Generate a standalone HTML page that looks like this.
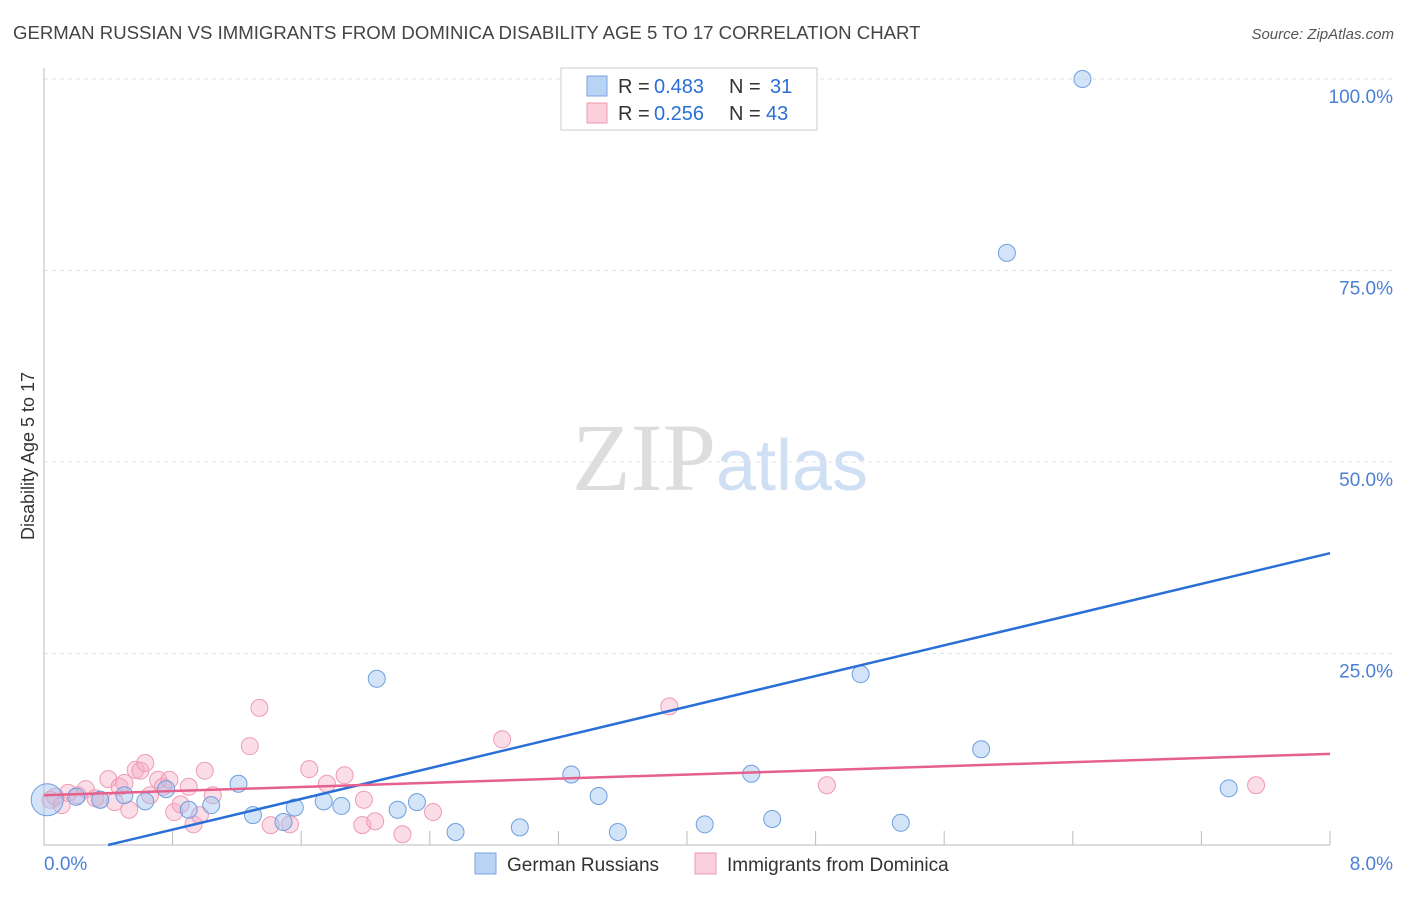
<!DOCTYPE html>
<html><head><meta charset="utf-8"><style>
body{margin:0;background:#fff;font-family:"Liberation Sans",sans-serif;}
</style></head><body>
<svg id="chart" width="1406" height="892" xmlns="http://www.w3.org/2000/svg" style="font-family:'Liberation Sans',sans-serif">
<text x="13" y="39" font-size="18.6" fill="#444">GERMAN RUSSIAN VS IMMIGRANTS FROM DOMINICA DISABILITY AGE 5 TO 17 CORRELATION CHART</text>
<text x="1394" y="39" font-size="15" fill="#555" text-anchor="end" font-style="italic">Source: ZipAtlas.com</text>
<text x="720" y="490" font-size="96" text-anchor="middle" font-family="Liberation Serif" fill="#ddd"><tspan fill="#ddd">ZIP</tspan><tspan fill="#cfe0f5" font-family="Liberation Sans" font-size="72">atlas</tspan></text>
<text transform="translate(34,456) rotate(-90)" font-size="18" fill="#333" text-anchor="middle">Disability Age 5 to 17</text>
<g id="grid"></g><g id="marks"></g>
<g>
<rect x="561" y="68" width="256" height="62" fill="#fff" stroke="#ccc"/>
<rect x="587" y="76" width="20" height="20" fill="#b9d3f5" stroke="#7aa6e0"/>
<text x="618" y="93" font-size="20" fill="#333">R =</text>
<text x="654" y="93" font-size="20" fill="#2a6fd6">0.483</text>
<text x="729" y="93" font-size="20" fill="#333">N =</text>
<text x="770" y="93" font-size="20" fill="#2a6fd6">31</text>
<rect x="587" y="103" width="20" height="20" fill="#fbcfdc" stroke="#eb9ab4"/>
<text x="618" y="120" font-size="20" fill="#333">R =</text>
<text x="654" y="120" font-size="20" fill="#2a6fd6">0.256</text>
<text x="729" y="120" font-size="20" fill="#333">N =</text>
<text x="766" y="120" font-size="20" fill="#2a6fd6">43</text>
</g>
<g>
<rect x="475" y="853" width="21" height="21" fill="#b9d3f5" stroke="#7aa6e0"/>
<text x="507" y="871" font-size="19" fill="#333">German Russians</text>
<rect x="695" y="853" width="21" height="21" fill="#fbcfdc" stroke="#eb9ab4"/>
<text x="727" y="871" font-size="19" fill="#333">Immigrants from Dominica</text>
</g>
</svg>
<script>
const xTicks=[0,0.8,1.6,2.4,3.2,4.0,4.8,5.6,6.4,7.2,8.0];
const yTicks=[25,50,75,100];
const yTickLabels=["25.0%","50.0%","75.0%","100.0%"];
const blueX=[0.02,0.2,0.35,0.5,0.63,0.76,0.9,1.04,1.21,1.3,1.49,1.56,1.74,1.85,2.07,2.2,2.32,2.56,2.96,3.28,3.45,3.57,4.11,4.4,4.53,5.08,5.33,5.83,5.99,6.46,7.37];
const blueY=[5.9,6.3,5.9,6.5,5.7,7.3,4.6,5.2,8.0,3.9,3.0,4.9,5.7,5.1,21.7,4.6,5.6,1.7,2.3,9.2,6.4,1.7,2.7,9.3,3.4,22.3,2.9,12.5,77.3,100,7.4];
const blueBig=[1,0,0,0,0,0,0,0,0,0,0,0,0,0,0,0,0,0,0,0,0,0,0,0,0,0,0,0,0,0,0];
const pinkX=[0.04,0.07,0.11,0.15,0.21,0.26,0.32,0.35,0.4,0.44,0.47,0.5,0.53,0.57,0.6,0.63,0.66,0.71,0.74,0.78,0.81,0.85,0.9,0.93,0.97,1.0,1.05,1.28,1.34,1.41,1.53,1.65,1.76,1.87,1.98,1.99,2.06,2.23,2.42,2.85,3.89,4.87,7.54];
const pinkY=[5.9,6.3,5.2,6.8,6.5,7.3,6.1,5.9,8.6,5.6,7.6,8.1,4.6,9.8,9.7,10.7,6.5,8.5,7.6,8.5,4.3,5.3,7.6,2.7,3.9,9.7,6.5,12.9,17.9,2.6,2.7,9.9,8.0,9.1,2.6,5.9,3.1,1.4,4.3,13.8,18.1,7.8,7.8];
const trendBlue=[-2.0,38.1];
const trendPink=[6.5,11.9];
const X=v=>44+v/8*1286, Y=v=>845-v*7.66;
const ns="http://www.w3.org/2000/svg";
function mk(t,a,p){const e=document.createElementNS(ns,t);for(const k in a)e.setAttribute(k,a[k]);p.appendChild(e);return e;}
const g=document.getElementById('grid'), m=document.getElementById('marks');
yTicks.forEach((t,i)=>{
 const l=mk('line',{x1:44,x2:1394,y1:Y(t),y2:Y(t),stroke:'#e2e2e2','stroke-dasharray':'4,4'},g);
 
 
 const tx=mk('text',{x:1393,y:Y(t)+24,'font-size':19,fill:'#4a80d6','text-anchor':'end'},g);
 tx.textContent=yTickLabels[i];
 
 
});
const ax=mk('line',{x1:44,x2:44,y1:68,y2:845,stroke:'#bbb'},g);


const bx=mk('line',{x1:44,x2:1330,y1:845,y2:845,stroke:'#bbb'},g);


xTicks.forEach(t=>{if(t===0)return;
 const l=mk('line',{x1:X(t),x2:X(t),y1:831,y2:845,stroke:'#bbb'},g);
 
 
});
const x0=mk('text',{x:44,y:870,'font-size':19,fill:'#4a80d6'},g);x0.textContent=xTicks[0].toFixed(1)+'%';


const x1=mk('text',{x:1393,y:870,'font-size':19,fill:'#4a80d6','text-anchor':'end'},g);x1.textContent=xTicks[xTicks.length-1].toFixed(1)+'%';


pinkX.forEach((v,i)=>{
 const c=mk('circle',{cx:X(v),cy:Y(pinkY[i]),r:8.5,fill:'rgba(246,170,195,0.4)',stroke:'#ee9ab5','stroke-width':1},m);
 
 
});
blueX.forEach((v,i)=>{
 const c=mk('circle',{cx:X(v),cy:Y(blueY[i]),r:blueBig[i]?16:8.5,fill:'rgba(160,196,240,0.45)',stroke:'#6e9fdf','stroke-width':1},m);
 
 
});
const bx0=8*(0-trendBlue[0])/(trendBlue[1]-trendBlue[0]);
const tb=mk('line',{x1:X(bx0),y1:Y(0),x2:X(8),y2:Y(trendBlue[1]),stroke:'#2a6fd6','stroke-width':2.5},m);


const tp=mk('line',{x1:X(0),y1:Y(trendPink[0]),x2:X(8),y2:Y(trendPink[1]),stroke:'#e5608c','stroke-width':2.5},m);


</script>
</body></html>
